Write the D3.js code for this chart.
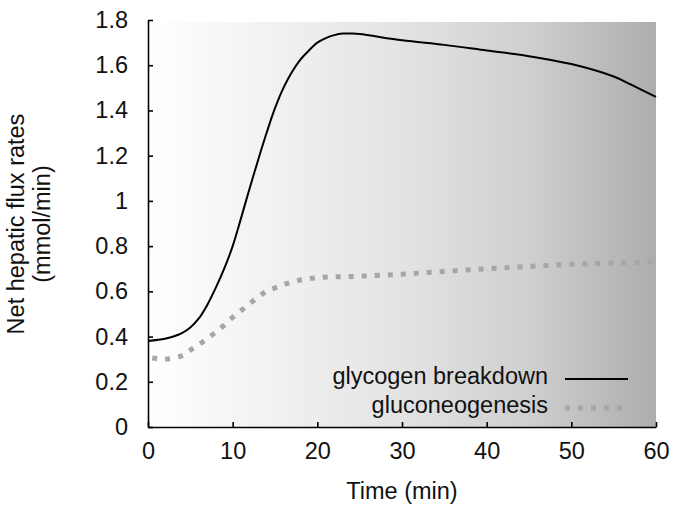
<!DOCTYPE html>
<html>
<head>
<meta charset="utf-8">
<script src="https://cdn.jsdelivr.net/npm/d3@7"></script>
<style>
  body { margin: 0; background: #fff; }
  svg { display: block; font-family: "Liberation Sans", Arial, sans-serif; }
  .axis path, .axis line { stroke: #000; stroke-width: 1.6; }
  .axis text { font-size: 23.5px; fill: #111; }
</style>
</head>
<body>
<svg class="chart" width="675" height="508"></svg>
<script>
// values
var glyTime = [0, 2, 3, 4, 5, 6, 7, 8, 9, 10, 11, 12, 13, 14, 15, 16, 17, 18, 19, 20, 21, 22, 23, 24, 25, 30, 35, 40, 45, 50, 55, 57, 60];
var glyValues = [0.38, 0.39, 0.40, 0.415, 0.44, 0.48, 0.54, 0.615, 0.70, 0.80, 0.925, 1.055, 1.18, 1.30, 1.41, 1.50, 1.57, 1.625, 1.665, 1.70, 1.72, 1.733, 1.74, 1.74, 1.738, 1.71, 1.69, 1.665, 1.64, 1.605, 1.55, 1.515, 1.46];

var gngTime = [0.5, 2, 4, 5, 6, 7, 8, 9, 10, 11, 12, 13, 14, 15, 16, 18, 20, 22, 25, 30, 35, 40, 45, 50, 55, 60];
var gngValues = [0.305, 0.30, 0.315, 0.34, 0.365, 0.39, 0.42, 0.45, 0.485, 0.515, 0.545, 0.575, 0.60, 0.615, 0.63, 0.65, 0.66, 0.664, 0.667, 0.676, 0.688, 0.70, 0.71, 0.72, 0.725, 0.73];

var xTicks = [0, 10, 20, 30, 40, 50, 60];
var yTicks = [0, 0.2, 0.4, 0.6, 0.8, 1, 1.2, 1.4, 1.6, 1.8];

var seriesNames = ["glycogen breakdown", "gluconeogenesis"];

var svg = d3.select(".chart");

var x = d3.scaleLinear().domain([0, 60]).range([148, 656]);
var y = d3.scaleLinear().domain([0, 1.8]).range([427, 20]);

// gradient background, white on the left to grey on the right
var grad = svg.append("defs").append("linearGradient")
  .attr("id", "bg").attr("x1", "0").attr("x2", "1").attr("y1", "0").attr("y2", "0");
grad.append("stop").attr("offset", "0").attr("stop-color", "#ffffff");
grad.append("stop").attr("offset", "0.25").attr("stop-color", "#f1f1f1");
grad.append("stop").attr("offset", "0.5").attr("stop-color", "#e3e3e3");
grad.append("stop").attr("offset", "0.75").attr("stop-color", "#cfcfcf");
grad.append("stop").attr("offset", "1").attr("stop-color", "#adadad");

svg.append("rect")
  .attr("x", x(0)).attr("y", 22)
  .attr("width", x(60) - x(0)).attr("height", y(0) - 22)
  .attr("fill", "url(#bg)");

// axes, ticks point inward
var xAxis = svg.append("g").attr("class", "axis")
  .attr("transform", "translate(0," + y(0) + ")")
  .call(d3.axisBottom(x).tickValues(xTicks).tickSizeInner(-5).tickSizeOuter(0).tickPadding(11).tickFormat(d3.format("d")));
xAxis.selectAll("text").attr("dy", "0.9em");

var yAxis = svg.append("g").attr("class", "axis")
  .attr("transform", "translate(" + x(0) + ",0)")
  .call(d3.axisLeft(y).tickValues(yTicks).tickSizeInner(-5).tickSizeOuter(0).tickPadding(20).tickFormat(function(d) { return d3.format("")(+d.toFixed(1)); }));

var line = d3.line()
  .x(function(d) { return x(d[0]); })
  .y(function(d) { return y(d[1]); })
  .curve(d3.curveCatmullRom);

svg.append("path") // gluconeogenesis dotted
  .datum(d3.zip(gngTime, gngValues))
  .attr("d", line)
  .attr("fill", "none")
  .attr("stroke", "#a6a6a6")
  .attr("stroke-width", 5)
  .attr("stroke-dasharray", "5,8");

svg.append("path") // glycogen breakdown
  .datum(d3.zip(glyTime, glyValues))
  .attr("d", line)
  .attr("fill", "none")
  .attr("stroke", "#000")
  .attr("stroke-width", 2);

// legend
var leg = svg.append("g").style("font-size", "23.5px").attr("fill", "#111");
leg.append("text").attr("x", 548).attr("y", 384).attr("text-anchor", "end").text(seriesNames[0]);
leg.append("text").attr("x", 548).attr("y", 413).attr("text-anchor", "end").text(seriesNames[1]);
leg.append("line").attr("x1", 565).attr("x2", 628).attr("y1", 379).attr("y2", 379)
  .attr("stroke", "#000").attr("stroke-width", 2);
leg.append("line").attr("x1", 565).attr("x2", 625).attr("y1", 408).attr("y2", 408)
  .attr("stroke", "#a6a6a6").attr("stroke-width", 5).attr("stroke-dasharray", "5,8");

// axis titles
svg.append("text")
  .attr("x", (x(0) + x(60)) / 2).attr("y", 499)
  .attr("text-anchor", "middle").style("font-size", "23.5px").attr("fill", "#111")
  .text("Time (min)");

var yt = svg.append("text")
  .attr("transform", "translate(24,224) rotate(-90)")
  .attr("text-anchor", "middle").style("font-size", "23.5px").attr("fill", "#111");
yt.append("tspan").attr("x", 0).attr("y", 0).text("Net hepatic flux rates");
yt.append("tspan").attr("x", 0).attr("y", 26).text("(mmol/min)");
</script>
</body>
</html>
